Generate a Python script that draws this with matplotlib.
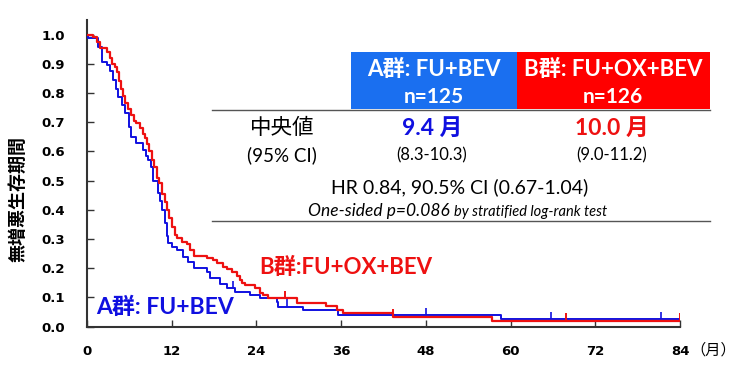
import matplotlib
matplotlib.use("Agg")
import matplotlib.pyplot as plt
import matplotlib.patches as patches

# Kaplan-Meier steps (months, survival)
a_time = [0, 0.1, 1.6, 2.1, 2.8, 3.2, 3.7, 4.1, 4.4, 4.9, 5.4, 5.9, 6.3, 7.0, 8.0,
          8.4, 8.7, 9.1, 9.4, 10.0, 10.3, 10.6, 11.1, 11.3, 11.5, 12.0, 12.7, 13.6,
          14.3, 15.1, 17.0, 17.4, 18.8, 19.8, 21.0, 23.1, 24.5, 26.9, 27.0, 30.6,
          35.6, 58.7, 84.0]
a_surv = [1.0, 0.987, 0.958, 0.907, 0.896, 0.875, 0.844, 0.815, 0.787, 0.757, 0.73,
          0.684, 0.65, 0.627, 0.604, 0.585, 0.57, 0.545, 0.5, 0.456, 0.43, 0.4, 0.353,
          0.31, 0.285, 0.272, 0.262, 0.239, 0.22, 0.2, 0.188, 0.165, 0.145, 0.131,
          0.119, 0.108, 0.097, 0.085, 0.068, 0.056, 0.039, 0.026, 0.026]
a_cens_t = [20.7, 28.3, 48.0, 65.7, 81.3]
a_cens_s = [0.131, 0.068, 0.039, 0.026, 0.026]

b_time = [0, 0.8, 1.4, 1.8, 2.9, 3.2, 3.5, 3.9, 4.2, 4.5, 4.8, 5.1, 5.4, 5.8, 6.2,
          6.6, 7.0, 7.5, 7.9, 8.2, 8.5, 8.8, 9.2, 9.5, 9.9, 10.2, 10.6, 11.0, 11.3,
          11.6, 12.0, 12.4, 12.8, 13.5, 14.1, 14.6, 15.1, 17.0, 17.8, 18.4, 19.2,
          19.8, 20.5, 21.2, 21.7, 22.0, 22.4, 23.8, 24.5, 25.0, 25.6, 29.7, 33.9,
          35.4, 36.3, 43.4, 57.3, 84.0]
b_surv = [1.0, 0.99, 0.975, 0.953, 0.94, 0.92, 0.9, 0.89, 0.87, 0.84, 0.815, 0.79,
          0.765, 0.745, 0.725, 0.705, 0.697, 0.68, 0.66, 0.645, 0.625, 0.6, 0.57,
          0.545, 0.51, 0.49, 0.455, 0.425, 0.4, 0.37, 0.34, 0.315, 0.303, 0.29,
          0.282, 0.262, 0.24, 0.235, 0.228, 0.216, 0.205, 0.197, 0.186, 0.173, 0.16,
          0.15, 0.142, 0.131, 0.116, 0.107, 0.097, 0.08, 0.07, 0.058, 0.047, 0.034,
          0.02, 0.02]
b_cens_t = [28.0, 43.4, 67.8, 84.0]
b_cens_s = [0.097, 0.034, 0.02, 0.02]

x_ticks = [0, 12, 24, 36, 48, 60, 72, 84]
y_ticks = [0.0, 0.1, 0.2, 0.3, 0.4, 0.5, 0.6, 0.7, 0.8, 0.9, 1.0]

BLUE = "#1010e0"
RED = "#ee1111"
JP = ["Noto Sans CJK JP", "DejaVu Sans"]
LAT = ["Lato", "Noto Sans CJK JP"]
TICKF = ["DejaVu Sans", "Noto Sans CJK JP"]

W, H = 736, 388
fig = plt.figure(figsize=(W / 100, H / 100), dpi=100)
ax = fig.add_axes([87 / W, 61.5 / H, 593 / W, 306.6 / H])


def px(x, y):
    return x / W, 1 - y / H


ax.step(a_time, a_surv, where="post", color=BLUE, lw=1.4, zorder=3)
ax.step(b_time, b_surv, where="post", color=RED, lw=1.6, zorder=4)
ax.vlines(a_cens_t, a_cens_s, [s + 0.025 for s in a_cens_s], color=BLUE, lw=1.2, zorder=3)
ax.vlines(b_cens_t, b_cens_s, [s + 0.025 for s in b_cens_s], color=RED, lw=1.4, zorder=4)

ax.set_xlim(0, 84)
ax.set_ylim(0, 1.05)
ax.set_xticks(x_ticks)
ax.set_yticks(y_ticks)
ax.set_xticklabels([str(t) for t in x_ticks], fontsize=9.5, fontweight="bold", family=TICKF)
ax.set_yticklabels([f"{t:.1f}" for t in y_ticks], fontsize=9.5, fontweight="bold", family=TICKF)
ax.tick_params(direction="in", length=5, width=1, color="#333333")
ax.tick_params(axis="y", pad=16)
ax.tick_params(axis="x", pad=13)
for s in ["top", "right"]:
    ax.spines[s].set_visible(False)
for s in ["left", "bottom"]:
    ax.spines[s].set_linewidth(1.5)
    ax.spines[s].set_color("#333333")

fig.text(*px(18, 199), "無増悪生存期間", rotation=90, ha="center", va="center",
         fontsize=13, fontweight="bold", family=JP)
fig.text(*px(713, 350), "（月）", ha="center", va="center", fontsize=11, family=JP)

# curve labels
fig.text(*px(346, 267), "B群:FU+OX+BEV", color=RED, ha="center", va="center",
         fontsize=16, fontweight="bold", family=LAT)
fig.text(*px(165, 307), "A群: FU+BEV", color=BLUE, ha="center", va="center",
         fontsize=16.5, fontweight="bold", family=LAT)

# table boxes
fig.add_artist(patches.Rectangle(px(351, 109), 166 / W, 57 / H, transform=fig.transFigure,
                                 facecolor="#1a6ff0", edgecolor="none"))
fig.add_artist(patches.Rectangle(px(517, 109), 193 / W, 57 / H, transform=fig.transFigure,
                                 facecolor="#ff0000", edgecolor="none"))
fig.add_artist(plt.Line2D([212 / W, 710 / W], [1 - 109.5 / H] * 2, transform=fig.transFigure,
                          color="#555555", lw=1))
fig.add_artist(plt.Line2D([212 / W, 710 / W], [1 - 221 / H] * 2, transform=fig.transFigure,
                          color="#555555", lw=1))

fig.text(*px(434, 69), "A群: FU+BEV", color="white", ha="center", va="center",
         fontsize=16, fontweight="bold", family=LAT)
fig.text(*px(434, 97), "n=125", color="white", ha="center", va="center",
         fontsize=15, fontweight="bold", family=LAT)
fig.text(*px(613, 69), "B群: FU+OX+BEV", color="white", ha="center", va="center",
         fontsize=16, fontweight="bold", family=LAT)
fig.text(*px(613, 97), "n=126", color="white", ha="center", va="center",
         fontsize=15, fontweight="bold", family=LAT)

fig.text(*px(282, 128), "中央値", ha="center", va="center", fontsize=15.5, family=JP)
fig.text(*px(282, 155), "(95% CI)", ha="center", va="center", fontsize=13.5, family=LAT)
fig.text(*px(432, 128), "9.4 月", color=BLUE, ha="center", va="center",
         fontsize=16.5, fontweight="bold", family=LAT)
fig.text(*px(612, 128), "10.0 月", color=RED, ha="center", va="center",
         fontsize=16.5, fontweight="bold", family=LAT)
fig.text(*px(432, 155), "(8.3-10.3)", ha="center", va="center", fontsize=12, family=LAT)
fig.text(*px(612, 155), "(9.0-11.2)", ha="center", va="center", fontsize=12, family=LAT)

fig.text(*px(460, 187), "HR 0.84, 90.5% CI (0.67-1.04)", ha="center", va="center",
         fontsize=14, family=LAT)
fig.text(*px(450, 211), "One-sided p=0.086", ha="right", va="center",
         fontsize=12.5, style="italic", family=LAT)
fig.text(*px(454, 212), "by stratified log-rank test", ha="left", va="center",
         fontsize=10.5, style="italic", family=LAT)

fig.savefig("out.png", dpi=100)
